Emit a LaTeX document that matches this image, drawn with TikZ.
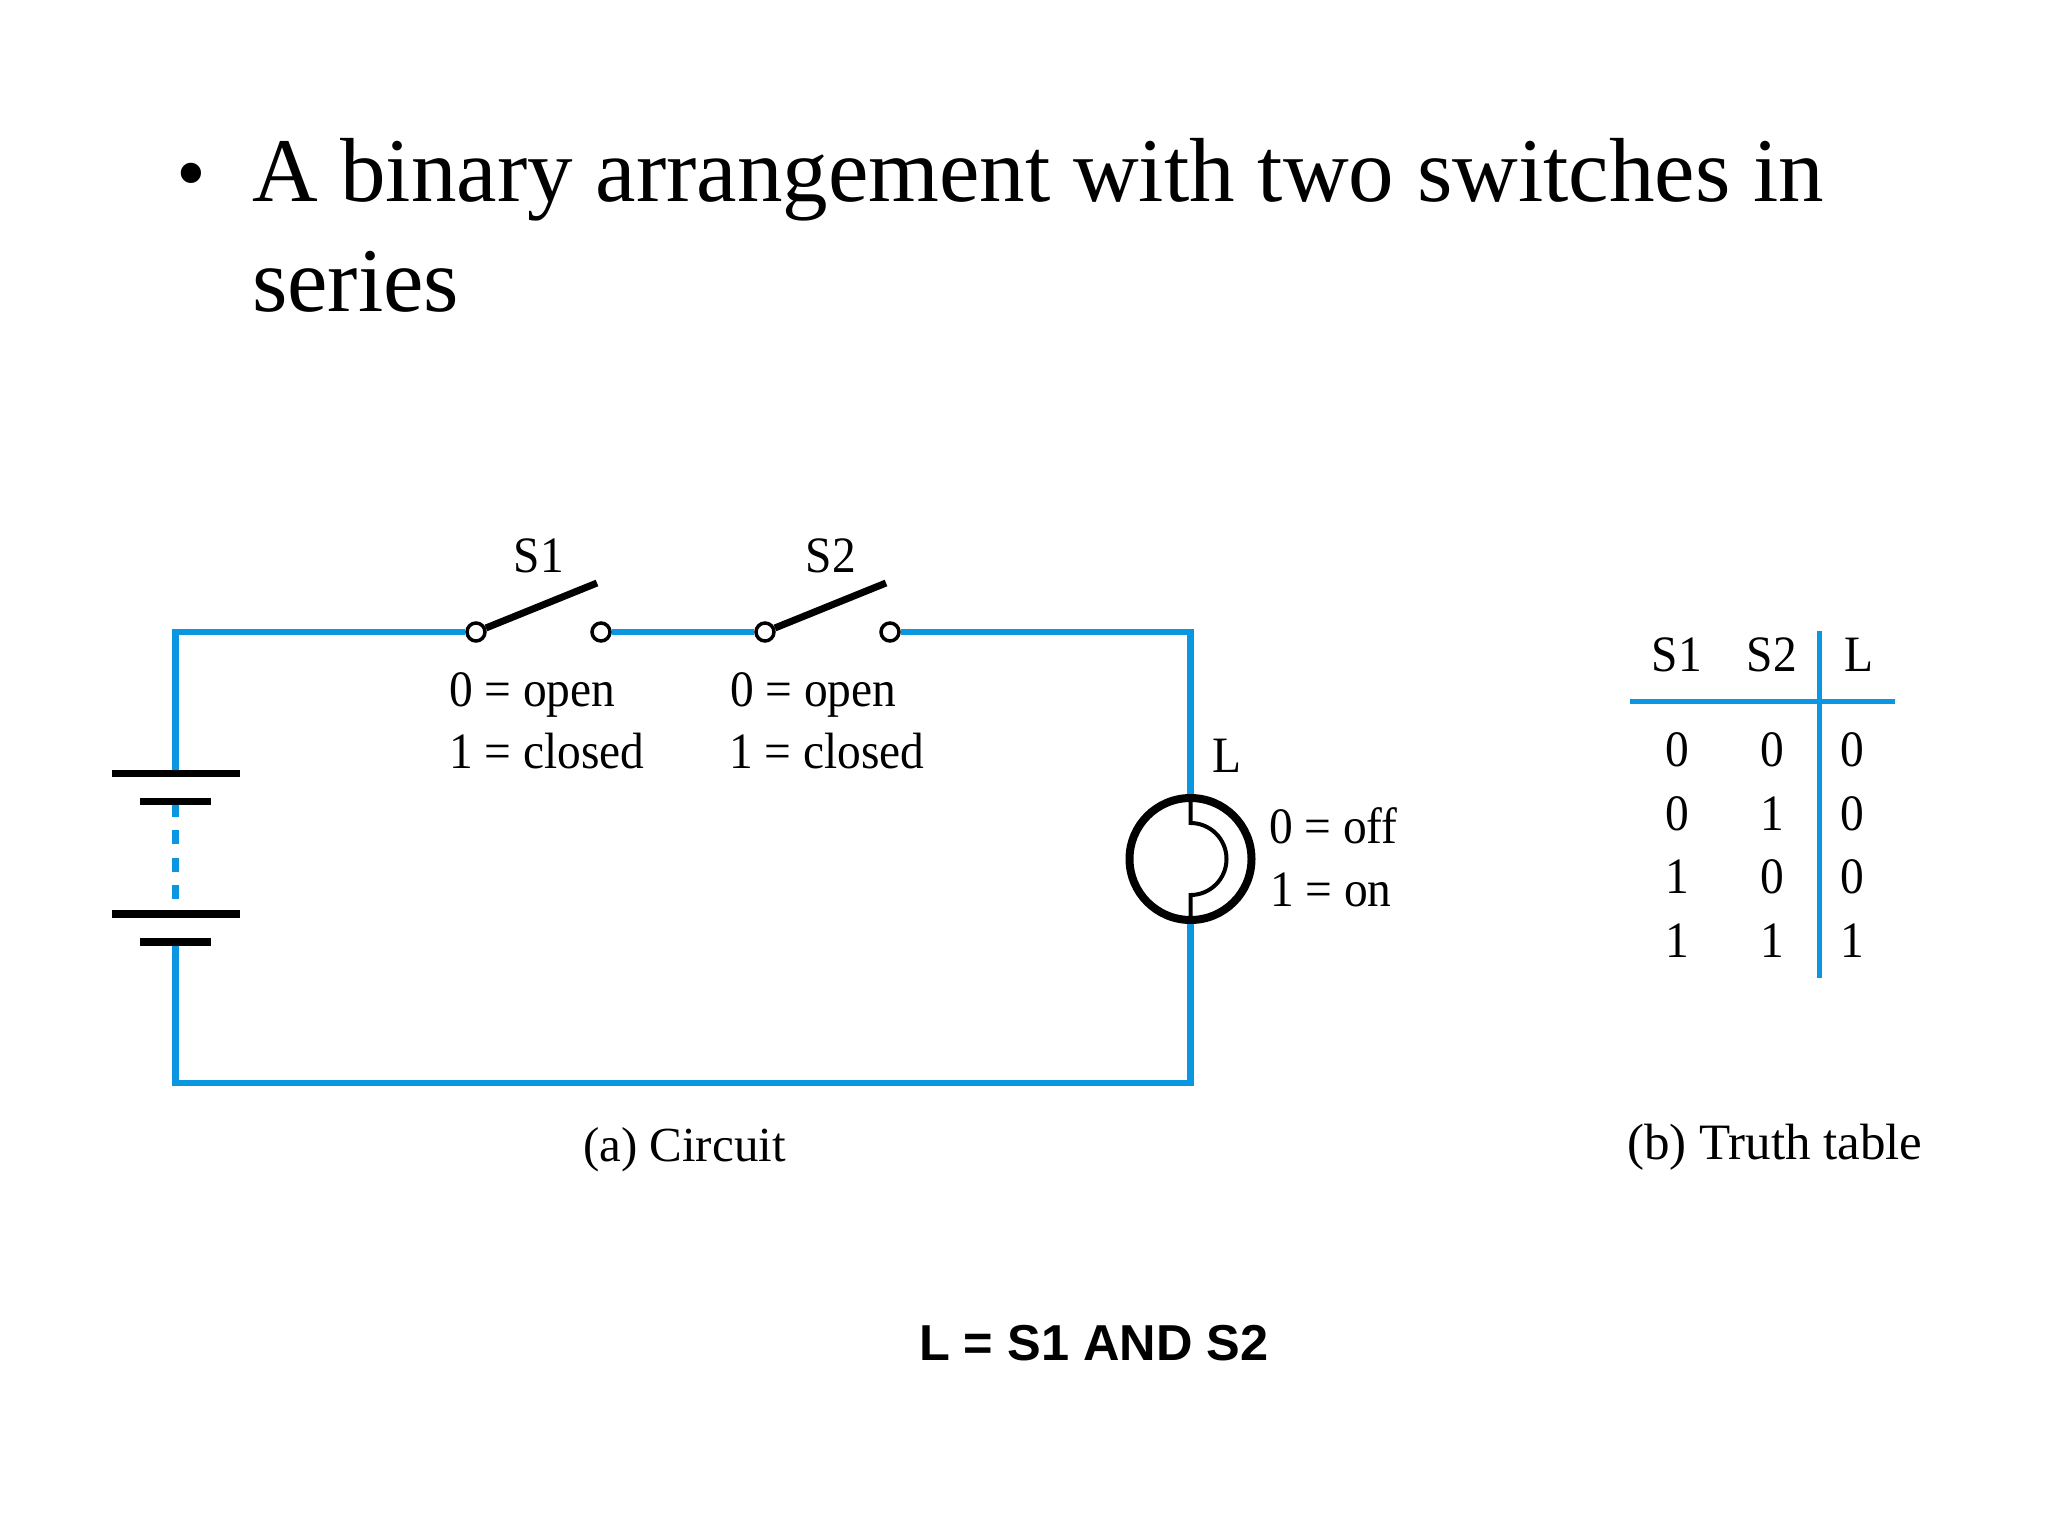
\documentclass[tikz,border=0pt]{standalone}
\usepackage{fontspec}
\setmainfont{Liberation Serif}
\newfontfamily\figfont{Liberation Serif}[FakeStretch=0.93]
\newfontfamily\boldsans{Liberation Sans}[BoldFont={Liberation Sans Bold}]
\definecolor{wireblue}{HTML}{0A96E0}
\tikzset{
  txt/.style={inner sep=0pt,outer sep=0pt,anchor=base west,text=black},
  fig/.style={txt,font=\figfont\fontsize{51}{55}\selectfont},
  figc/.style={fig,anchor=base},
  capt/.style={txt,font=\fontsize{49}{52}\selectfont},
  title/.style={txt,font=\fontsize{91}{100}\selectfont},
  wire/.style={draw=wireblue,line width=6.5pt},
  tab/.style={draw=wireblue,line width=5pt},
  term/.style={circle,draw=black,fill=white,line width=3.5pt,minimum size=18pt,inner sep=0pt},
  blade/.style={draw=black,line width=7pt},
  plate/.style={fill=black,inner sep=0pt,minimum height=7.5pt},
}
\begin{document}
\begin{tikzpicture}[x=1pt,y=-1pt]
\useasboundingbox[fill=white] (0,0) rectangle (2048,1536);

% title
\node[txt,font=\fontsize{85}{90}\selectfont,anchor=base] (bul) at (191,201) {•};
\node[title] (t1) at (252,201) {A binary arrangement with two switches in};
\node[title] (t2) at (252,311) {series};

% switches
\node[term] (s1a) at (476,632) {};
\node[term] (s1b) at (601,632) {};
\node[term] (s2a) at (765,632) {};
\node[term] (s2b) at (890,632) {};
\coordinate (s1e) at (597,583);
\coordinate (s2e) at (886,583);
\draw[blade] (s1a) -- (s1e);
\draw[blade] (s2a) -- (s2e);

% battery
\node[plate,minimum width=128pt] (p1) at (175.5,773.5) {};
\node[plate,minimum width=71pt]  (p2) at (175.5,801.5) {};
\node[plate,minimum width=128pt] (p3) at (175.5,914) {};
\node[plate,minimum width=71pt]  (p4) at (175.5,942) {};

% lamp
\node[circle,draw=black,line width=8pt,minimum size=122pt,inner sep=0pt] (lamp) at (1190.5,859) {};
\draw[black,line width=4pt] (lamp.north) -- (1190.5,823) arc[start angle=-90,end angle=90,radius=36] -- (lamp.south);

% wiring
\coordinate (bl) at (175.5,1083);
\draw[wire] (s1a) -| (p1.north);
\draw[wire] (s1b) -- (s2a);
\draw[wire] (s2b) -| (lamp.north);
\draw[wire] (lamp.south) |- (bl) -- (p4.south);
\draw[wire,dash pattern=on 14pt off 13.5pt,dash phase=2.5pt] (p2.south) -- (p3.north);

% circuit labels
\node[figc] (ls1) at (539,572) {S1};
\node[figc] (ls2) at (831,572) {S2};
\node[fig] (o1) at (449,706) {0 = open};
\node[fig] (c1) at (449,768) {1 = closed};
\node[fig] (o2) at (730,706) {0 = open};
\node[fig] (c2) at (729,768) {1 = closed};
\node[fig] (ll) at (1212,772) {L};
\node[fig] (off) at (1269,843) {0 = off};
\node[fig] (on) at (1270,906) {1 = on};
\node[capt] (ca) at (583,1161) {(a) Circuit};
\node[capt,font=\fontsize{51}{55}\selectfont] (cb) at (1627,1159) {(b) Truth table};

% truth table
\node[figc] (h1) at (1677,671) {S1};
\node[figc] (h2) at (1772,671) {S2};
\node[figc] (h3) at (1859,671) {L};
\node[figc] (a1) at (1677,766) {0};
\node[figc] (a2) at (1772,766) {0};
\node[figc] (a3) at (1852,766) {0};
\node[figc] (b1) at (1677,830) {0};
\node[figc] (b2) at (1772,830) {1};
\node[figc] (b3) at (1852,830) {0};
\node[figc] (d1) at (1677,893) {1};
\node[figc] (d2) at (1772,893) {0};
\node[figc] (d3) at (1852,893) {0};
\node[figc] (e1) at (1677,957) {1};
\node[figc] (e2) at (1772,957) {1};
\node[figc] (e3) at (1852,957) {1};
\coordinate (hl) at (1630,701);
\coordinate (hr) at (1895,701);
\coordinate (vt) at (1819,631);
\coordinate (vb) at (1819,978);
\draw[tab] (hl) -- (hr);
\draw[tab] (vt) -- (vb);

% equation
\node[txt,font=\boldsans\bfseries\fontsize{50.5}{54}\selectfont] (eq) at (919,1360) {L = S1 AND S2};
\end{tikzpicture}
\end{document}
